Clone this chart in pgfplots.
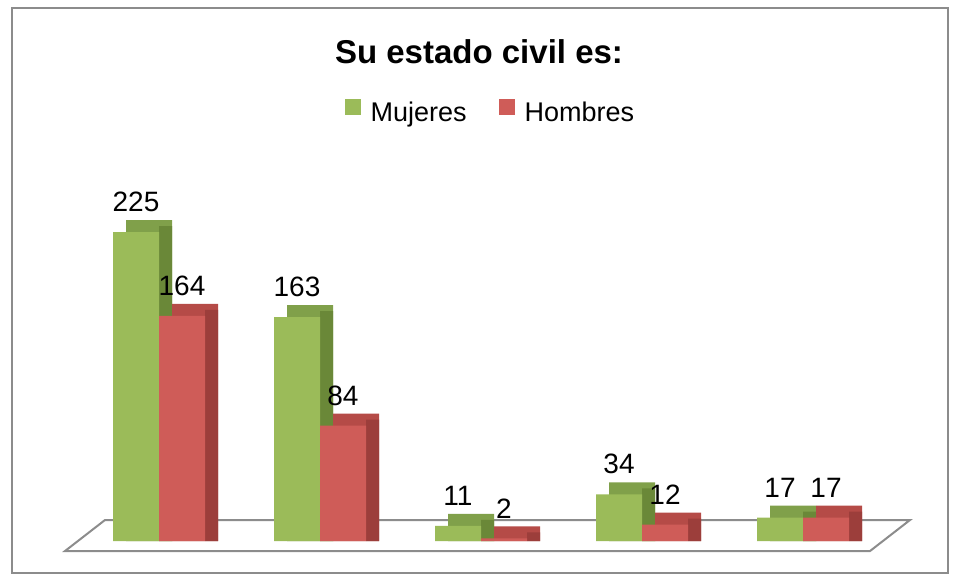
\documentclass[border=0pt]{standalone}
\usepackage{pgfplots}
\usepackage{pgfplotstable}
\pgfplotsset{compat=1.18}
\usepackage{fontspec}
\setmainfont{Liberation Sans}

\definecolor{gfront}{HTML}{9BBB59}
\definecolor{gtop}{HTML}{80A04A}
\definecolor{gside}{HTML}{6A8838}
\definecolor{rfront}{HTML}{CF5C58}
\definecolor{rtop}{HTML}{B54B47}
\definecolor{rside}{HTML}{9C3E3B}
\definecolor{frame}{HTML}{8C8C8C}

% x = pixel position of the group centre, m = Mujeres, h = Hombres
\pgfplotstableread{
x   m   h
159 225 164
320 163 84
481 11  2
642 34  12
803 17  17
}\datatable

\begin{document}
\begin{tikzpicture}
\begin{axis}[
  width=479pt, height=290.5pt, scale only axis,
  xmin=0, xmax=958, ymin=-29.13, ymax=394.0,
  xtick=\empty, ytick=\empty,
  axis line style={draw=none},
  clip=false,
  /pgf/number format/assume math mode=true,
  title={Su estado civil es:},
  every axis title shift=0pt,
  title style={font=\fontsize{16.5}{20}\selectfont\bfseries,
    at={(0.5,0.9105)}, anchor=center},
  legend columns=2,
  legend style={at={(0.513,0.8055)}, anchor=center, draw=none, fill=none,
    font=\fontsize{13.5}{15}\selectfont, column sep=3pt,
    /tikz/every odd column/.style={column sep=3pt},
    /tikz/every even column/.style={column sep=14pt}},
  legend image code/.code={\path[#1, draw=none] (0pt,-1.2pt) rectangle (8pt,6.8pt);},
  nodes near coords style={font=\fontsize{14}{16}\selectfont, anchor=center, yshift=15pt, text=black},
]
% outer frame
\draw[frame, line width=1pt] (axis cs:12,-23.3) rectangle (axis cs:948,388.2);
% floor
\draw[frame, line width=1pt, fill=white]
  (axis cs:65,-7.3) -- (axis cs:105,15.3) -- (axis cs:910,15.3) -- (axis cs:870,-7.3) -- cycle;

% Mujeres
\addplot[ybar, bar width=23pt, bar shift=-5pt, fill=gtop, draw=none, forget plot]
  table[x=x, y expr=\thisrow{m}+8.74]{\datatable};
\addplot[ybar, bar width=6.5pt, bar shift=3.25pt, fill=gside, draw=none, forget plot]
  table[x=x, y expr=\thisrow{m}+4.37]{\datatable};
\addplot[ybar, bar width=23pt, bar shift=-11.5pt, fill=gfront, draw=none,
  nodes near coords, every node near coord/.append style={xshift=-11.5pt}]
  table[x=x, y=m]{\datatable};
\addlegendentry{Mujeres}

% Hombres
\addplot[ybar, bar width=23pt, bar shift=18pt, fill=rtop, draw=none, forget plot]
  table[x=x, y expr=\thisrow{h}+8.74]{\datatable};
\addplot[ybar, bar width=6.5pt, bar shift=26.25pt, fill=rside, draw=none, forget plot]
  table[x=x, y expr=\thisrow{h}+4.37]{\datatable};
\addplot[ybar, bar width=23pt, bar shift=11.5pt, fill=rfront, draw=none,
  nodes near coords, every node near coord/.append style={xshift=11.5pt}]
  table[x=x, y=h]{\datatable};
\addlegendentry{Hombres}
\end{axis}
\end{tikzpicture}
\end{document}
